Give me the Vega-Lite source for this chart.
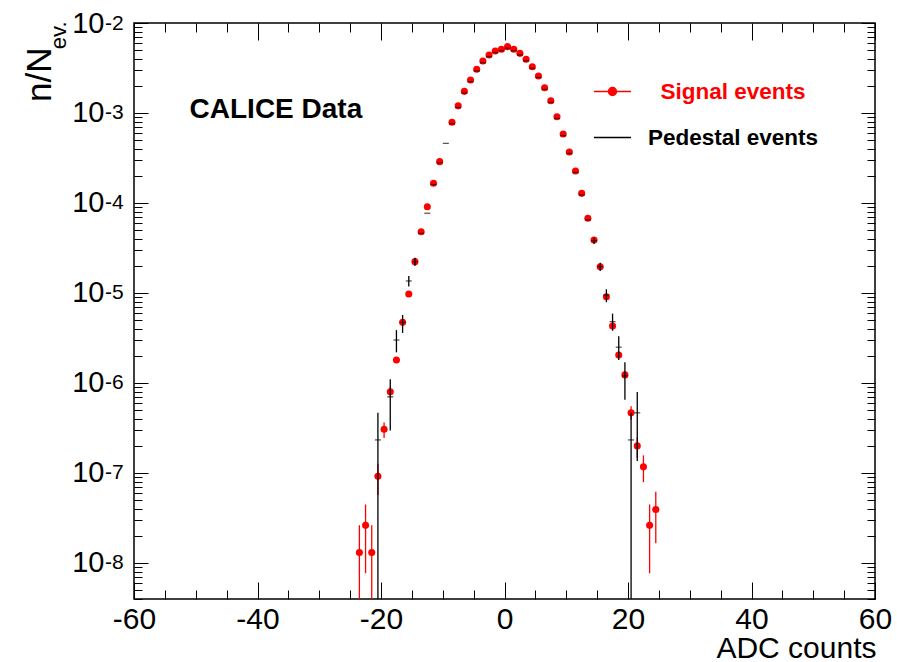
{
  "$schema": "https://vega.github.io/schema/vega-lite/v6.json",
  "width": 741,
  "height": 576,
  "autosize": "none",
  "padding": {"left": 134, "top": 23, "right": 22, "bottom": 63},
  "background": "white",
  "config": {
    "view": {"stroke": "#000000", "strokeWidth": 1.5},
    "axis": {"domain": false, "grid": false, "tickColor": "#000000", "tickWidth": 1, "labelColor": "#000000", "titleColor": "#000000", "labelFont": "Liberation Sans", "titleFont": "Liberation Sans", "titleFontWeight": "normal", "labelOverlap": false, "labelFlush": false, "labelBound": false}
  },
  "datasets": {
    "signal": [
      {"x": -23.5, "v": 1.31e-8, "lo": 1e-12, "hi": 2.62e-8},
      {"x": -22.5, "v": 2.62e-8, "lo": 7.7e-9, "hi": 4.47e-8},
      {"x": -21.5, "v": 1.31e-8, "lo": 1e-12, "hi": 2.62e-8},
      {"x": -20.5, "v": 9.2e-8, "lo": 5.7e-8, "hi": 1.27e-7},
      {"x": -19.5, "v": 3.06e-7, "lo": 2.45e-7, "hi": 3.65e-7},
      {"x": -18.5, "v": 8.0e-7, "lo": 7.0e-7, "hi": 9.0e-7},
      {"x": -17.5, "v": 1.8e-6},
      {"x": -16.5, "v": 4.72e-6},
      {"x": -15.5, "v": 9.75e-6},
      {"x": -14.5, "v": 2.23e-5},
      {"x": -13.5, "v": 4.8e-5},
      {"x": -12.5, "v": 9.1e-5},
      {"x": -11.5, "v": 1.66e-4},
      {"x": -10.5, "v": 2.88e-4},
      {"x": -8.5, "v": 7.9e-4},
      {"x": -7.5, "v": 1.2e-3},
      {"x": -6.5, "v": 1.74e-3},
      {"x": -5.5, "v": 2.33e-3},
      {"x": -4.5, "v": 3.06e-3},
      {"x": -3.5, "v": 3.78e-3},
      {"x": -2.5, "v": 4.41e-3},
      {"x": -1.5, "v": 4.89e-3},
      {"x": -0.5, "v": 5.11e-3},
      {"x": 0.5, "v": 5.46e-3},
      {"x": 1.5, "v": 5.11e-3},
      {"x": 2.5, "v": 4.6e-3},
      {"x": 3.5, "v": 3.95e-3},
      {"x": 4.5, "v": 3.27e-3},
      {"x": 5.5, "v": 2.58e-3},
      {"x": 6.5, "v": 1.91e-3},
      {"x": 7.5, "v": 1.37e-3},
      {"x": 8.5, "v": 9.1e-4},
      {"x": 9.5, "v": 5.85e-4},
      {"x": 10.5, "v": 3.69e-4},
      {"x": 11.5, "v": 2.27e-4},
      {"x": 12.5, "v": 1.28e-4},
      {"x": 13.5, "v": 6.76e-5},
      {"x": 14.5, "v": 3.88e-5},
      {"x": 15.5, "v": 1.96e-5},
      {"x": 16.5, "v": 9.1e-6},
      {"x": 17.5, "v": 4.3e-6},
      {"x": 18.5, "v": 2.05e-6},
      {"x": 19.5, "v": 1.23e-6},
      {"x": 20.5, "v": 4.68e-7, "lo": 3.9e-7, "hi": 5.5e-7},
      {"x": 21.5, "v": 2.0e-7, "lo": 1.48e-7, "hi": 2.5e-7},
      {"x": 22.5, "v": 1.17e-7, "lo": 7.9e-8, "hi": 1.57e-7},
      {"x": 23.5, "v": 2.62e-8, "lo": 7.7e-9, "hi": 4.47e-8},
      {"x": 24.5, "v": 3.93e-8, "lo": 1.66e-8, "hi": 6.2e-8}
    ],
    "pedestal": [
      {"x": -20.5, "v": 2.33e-7, "lo": 1e-12, "hi": 4.66e-7},
      {"x": -18.5, "v": 7.0e-7, "lo": 2.97e-7, "hi": 1.1e-6},
      {"x": -17.5, "v": 3.0e-6, "lo": 2.19e-6, "hi": 3.87e-6},
      {"x": -16.5, "v": 4.72e-6, "lo": 3.6e-6, "hi": 5.7e-6},
      {"x": -15.5, "v": 1.36e-5, "lo": 1.18e-5, "hi": 1.54e-5},
      {"x": -14.5, "v": 2.23e-5, "lo": 2.0e-5, "hi": 2.46e-5},
      {"x": -13.5, "v": 4.6e-5},
      {"x": -12.5, "v": 7.7e-5},
      {"x": -11.5, "v": 1.6e-4},
      {"x": -10.5, "v": 2.8e-4},
      {"x": -9.5, "v": 4.6e-4},
      {"x": -8.5, "v": 7.6e-4},
      {"x": -7.5, "v": 1.15e-3},
      {"x": -6.5, "v": 1.66e-3},
      {"x": -5.5, "v": 2.23e-3},
      {"x": -4.5, "v": 2.93e-3},
      {"x": -3.5, "v": 3.62e-3},
      {"x": -2.5, "v": 4.23e-3},
      {"x": -1.5, "v": 4.7e-3},
      {"x": -0.5, "v": 4.92e-3},
      {"x": 0.5, "v": 5.25e-3},
      {"x": 1.5, "v": 4.92e-3},
      {"x": 2.5, "v": 4.42e-3},
      {"x": 3.5, "v": 3.79e-3},
      {"x": 4.5, "v": 3.14e-3},
      {"x": 5.5, "v": 2.48e-3},
      {"x": 6.5, "v": 1.83e-3},
      {"x": 7.5, "v": 1.31e-3},
      {"x": 8.5, "v": 8.7e-4},
      {"x": 9.5, "v": 5.6e-4},
      {"x": 10.5, "v": 3.55e-4},
      {"x": 11.5, "v": 2.18e-4},
      {"x": 12.5, "v": 1.23e-4},
      {"x": 13.5, "v": 6.5e-5},
      {"x": 14.5, "v": 3.8e-5, "lo": 3.5e-5, "hi": 4.1e-5},
      {"x": 15.5, "v": 1.96e-5, "lo": 1.75e-5, "hi": 2.17e-5},
      {"x": 16.5, "v": 9.5e-6, "lo": 7.9e-6, "hi": 1.1e-5},
      {"x": 17.5, "v": 4.8e-6, "lo": 3.8e-6, "hi": 5.9e-6},
      {"x": 18.5, "v": 2.5e-6, "lo": 1.8e-6, "hi": 3.3e-6},
      {"x": 19.5, "v": 1.2e-6, "lo": 6.5e-7, "hi": 1.7e-6},
      {"x": 20.5, "v": 2.33e-7, "lo": 1e-12, "hi": 4.66e-7},
      {"x": 21.5, "v": 4.66e-7, "lo": 1.36e-7, "hi": 7.96e-7}
    ]
  },
  "layer": [
    {
      "data": {"name": "signal"},
      "mark": {"type": "rule", "strokeWidth": 1.3, "clip": true},
      "encoding": {
        "x": {"field": "x", "type": "quantitative", "scale": {"domain": [-60, 60], "nice": false, "zero": false},
          "axis": {"orient": "bottom", "values": [-60, -40, -20, 0, 20, 40, 60], "ticks": false, "labelExpr": "toString(datum.value)", "labelFontSize": 30, "labelPadding": 5, "title": "ADC counts", "titleFontSize": 30, "titleAlign": "right", "titleAnchor": "end", "titleBaseline": "alphabetic", "titleX": 742, "titleY": 58}},
        "y": {"field": "lo", "type": "quantitative", "scale": {"type": "log", "domain": [3.98e-9, 0.01], "nice": false},
          "axis": {"orient": "left", "values": [1e-8, 1e-7, 1e-6, 1e-5, 1e-4, 1e-3, 1e-2], "ticks": false, "labelExpr": "'10'", "labelFontSize": 29, "labelAlign": "right", "labelBaseline": "middle", "labelPadding": 30, "labelDy": 4, "title": "n/N", "titleFontSize": 35, "titleAngle": -90, "titleAlign": "right", "titleBaseline": "alphabetic", "titleX": -84, "titleY": 24}},
        "y2": {"field": "hi"},
        "color": {"datum": "Signal events", "type": "nominal",
          "scale": {"domain": ["Signal events", "Pedestal events"], "range": ["#ff0000", "#000000"]},
          "legend": {"title": null, "orient": "none", "legendX": 459, "legendY": 49, "padding": 0, "rowPadding": 15, "symbolSize": 1369, "symbolStrokeWidth": 1.3, "labelFont": "Liberation Sans", "labelFontSize": 22.5, "labelFontWeight": "bold", "labelAlign": "center", "labelOffset": 101, "labelLimit": 0,
            "encode": {
              "symbols": {"update": {
                "shape": [{"test": "datum.label === 'Signal events'", "value": "M-1,0H1M0.22,0A0.22,0.22,0,1,1,-0.22,0A0.22,0.22,0,1,1,0.22,0"}, {"value": "stroke"}],
                "fill": [{"test": "datum.label === 'Signal events'", "value": "#ff0000"}, {"value": "transparent"}],
                "stroke": [{"test": "datum.label === 'Signal events'", "value": "#ff0000"}, {"value": "#000000"}],
                "strokeWidth": {"value": 1.3},
                "opacity": {"value": 1}
              }},
              "labels": {"update": {
                "fill": [{"test": "datum.label === 'Signal events'", "value": "#ff0000"}, {"value": "#000000"}]
              }}
            }}}
      }
    },
    {
      "data": {"name": "signal"},
      "mark": {"type": "point", "filled": true, "size": 50, "opacity": 1, "clip": true},
      "encoding": {
        "x": {"field": "x", "type": "quantitative", "scale": {"domain": [-60, 60], "nice": false, "zero": false},
          "axis": {"orient": "bottom", "values": [-60, -55, -50, -45, -40, -35, -30, -25, -20, -15, -10, -5, 0, 5, 10, 15, 20, 25, 30, 35, 40, 45, 50, 55, 60], "labels": false, "title": null,
            "tickSize": {"condition": {"test": "datum.value % 20 === 0", "value": -17}, "value": -9}}},
        "y": {"field": "v", "type": "quantitative", "scale": {"type": "log", "domain": [3.98e-9, 0.01], "nice": false},
          "axis": {"orient": "left", "values": [1e-8, 1e-7, 1e-6, 1e-5, 1e-4, 1e-3, 1e-2], "ticks": false, "labelExpr": "toString(round(log(datum.value)/LN10))", "labelFontSize": 21, "labelAlign": "left", "labelBaseline": "middle", "labelPadding": 29.5, "labelDy": -6, "title": "ev.", "titleFontSize": 22, "titleAngle": -90, "titleAlign": "right", "titleBaseline": "alphabetic", "titleX": -69, "titleY": -2}},
        "color": {"datum": "Signal events", "type": "nominal"}
      }
    },
    {
      "data": {"name": "pedestal"},
      "mark": {"type": "rule", "strokeWidth": 1.3, "clip": true},
      "encoding": {
        "x": {"field": "x", "type": "quantitative", "scale": {"domain": [-60, 60], "nice": false, "zero": false},
          "axis": {"orient": "top", "values": [-60, -55, -50, -45, -40, -35, -30, -25, -20, -15, -10, -5, 0, 5, 10, 15, 20, 25, 30, 35, 40, 45, 50, 55, 60], "labels": false, "title": null,
            "tickSize": {"condition": {"test": "datum.value % 20 === 0", "value": -17}, "value": -9}}},
        "y": {"field": "lo", "type": "quantitative", "scale": {"type": "log", "domain": [3.98e-9, 0.01], "nice": false},
          "axis": {"orient": "left", "values": [4e-9, 5e-9, 6e-9, 7e-9, 8e-9, 9e-9, 1e-8, 2e-8, 3e-8, 4e-8, 5e-8, 6e-8, 7e-8, 8e-8, 9e-8, 1e-7, 2e-7, 3e-7, 4e-7, 5e-7, 6e-7, 7e-7, 8e-7, 9e-7, 1e-6, 2e-6, 3e-6, 4e-6, 5e-6, 6e-6, 7e-6, 8e-6, 9e-6, 1e-5, 2e-5, 3e-5, 4e-5, 5e-5, 6e-5, 7e-5, 8e-5, 9e-5, 1e-4, 2e-4, 3e-4, 4e-4, 5e-4, 6e-4, 7e-4, 8e-4, 9e-4, 1e-3, 2e-3, 3e-3, 4e-3, 5e-3, 6e-3, 7e-3, 8e-3, 9e-3, 1e-2], "labels": false, "title": null,
            "tickSize": {"condition": {"test": "abs(log(datum.value)/LN10 - round(log(datum.value)/LN10)) < 0.001", "value": -14}, "value": -8}}},
        "y2": {"field": "hi"},
        "color": {"datum": "Pedestal events", "type": "nominal"}
      }
    },
    {
      "data": {"name": "pedestal"},
      "mark": {"type": "tick", "orient": "horizontal", "size": 6, "thickness": 1.2, "clip": true},
      "encoding": {
        "x": {"field": "x", "type": "quantitative", "scale": {"domain": [-60, 60], "nice": false, "zero": false}, "axis": null},
        "y": {"field": "v", "type": "quantitative", "scale": {"type": "log", "domain": [3.98e-9, 0.01], "nice": false},
          "axis": {"orient": "right", "values": [4e-9, 5e-9, 6e-9, 7e-9, 8e-9, 9e-9, 1e-8, 2e-8, 3e-8, 4e-8, 5e-8, 6e-8, 7e-8, 8e-8, 9e-8, 1e-7, 2e-7, 3e-7, 4e-7, 5e-7, 6e-7, 7e-7, 8e-7, 9e-7, 1e-6, 2e-6, 3e-6, 4e-6, 5e-6, 6e-6, 7e-6, 8e-6, 9e-6, 1e-5, 2e-5, 3e-5, 4e-5, 5e-5, 6e-5, 7e-5, 8e-5, 9e-5, 1e-4, 2e-4, 3e-4, 4e-4, 5e-4, 6e-4, 7e-4, 8e-4, 9e-4, 1e-3, 2e-3, 3e-3, 4e-3, 5e-3, 6e-3, 7e-3, 8e-3, 9e-3, 1e-2], "labels": false, "title": null,
            "tickSize": {"condition": {"test": "abs(log(datum.value)/LN10 - round(log(datum.value)/LN10)) < 0.001", "value": -14}, "value": -8}}},
        "color": {"datum": "Pedestal events", "type": "nominal"}
      }
    },
    {
      "data": {"values": [{"label": "CALICE Data"}]},
      "mark": {"type": "text", "font": "Liberation Sans", "fontSize": 28, "fontWeight": "bold", "align": "left", "baseline": "alphabetic", "color": "#000000"},
      "encoding": {
        "x": {"datum": -51, "type": "quantitative", "scale": {"domain": [-60, 60], "nice": false, "zero": false}, "axis": null},
        "y": {"datum": 8.8e-4, "type": "quantitative", "scale": {"type": "log", "domain": [3.98e-9, 0.01], "nice": false}, "axis": null},
        "text": {"field": "label"}
      }
    }
  ],
  "resolve": {"axis": {"x": "independent", "y": "independent"}}
}
